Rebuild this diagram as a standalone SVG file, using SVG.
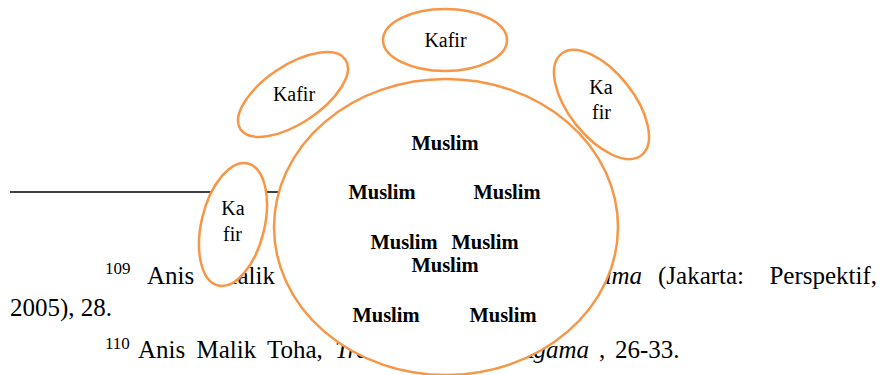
<svg xmlns="http://www.w3.org/2000/svg" width="885" height="375" viewBox="0 0 885 375">
  <style>
    .page { font-family: "Liberation Serif", "Times New Roman", serif; fill: #000; }
    .body { font-size: 25px; }
    .sup { font-size: 17px; }
    .it { font-style: italic; }
    .ring { stroke: #F79646; stroke-width: 2.5; fill: #fff; }
    .ring-open { stroke: #F79646; stroke-width: 2.5; fill: none; }
    .kafir { font-family: "Liberation Serif", "Times New Roman", serif; font-size: 20px; fill: #000; text-anchor: middle; }
    .muslim { font-family: "Liberation Serif", "Times New Roman", serif; font-size: 20.5px; font-weight: bold; fill: #000; text-anchor: middle; }
  </style>

  <rect width="885" height="375" fill="#fff"/>

  <!-- footnote rule and footnote text on the page -->
  <g id="footnotes" class="page">
    <line x1="10" y1="192" x2="280" y2="192" stroke="#000" stroke-width="1.5"/>
    <text class="sup" x="105" y="274">109</text>
    <text class="body" x="147" y="284">Anis</text>
    <text class="body" x="275" y="284" text-anchor="end">Malik</text>
    <text class="body it" x="642" y="284" text-anchor="end">Agama</text>
    <text class="body" x="658" y="284">(Jakarta:</text>
    <text class="body" x="877" y="284" text-anchor="end">Perspektif,</text>
    <text class="body" x="10" y="316">2005), 28.</text>
    <text class="sup" x="105" y="349">110</text>
    <text class="body" x="138" y="358" word-spacing="5">Anis Malik Toha,</text>
    <text class="body it" x="335" y="358">Tren</text>
    <text class="body it" x="589" y="358" text-anchor="end">Agama</text>
    <text class="body" x="599" y="358">,</text>
    <text class="body" x="615" y="358">26-33.</text>
  </g>

  <!-- large Muslim circle -->
  <g id="muslim-circle">
    <ellipse class="ring" cx="446" cy="227" rx="172" ry="148"/>
    <text class="muslim" x="445" y="150">Muslim</text>
    <text class="muslim" x="382" y="199">Muslim</text>
    <text class="muslim" x="507" y="199">Muslim</text>
    <text class="muslim" x="404" y="249">Muslim</text>
    <text class="muslim" x="485" y="249">Muslim</text>
    <text class="muslim" x="445" y="272">Muslim</text>
    <text class="muslim" x="386" y="322">Muslim</text>
    <text class="muslim" x="503" y="322">Muslim</text>
  </g>

  <!-- Kafir ellipses around it -->
  <g id="kafir-top">
    <ellipse class="ring" cx="445" cy="40" rx="62" ry="31"/>
    <text class="kafir" x="445.5" y="47">Kafir</text>
  </g>

  <g id="kafir-upper-left">
    <ellipse class="ring" cx="0" cy="0" rx="63" ry="29" transform="translate(293 94.5) rotate(-33.5)"/>
    <text class="kafir" x="294" y="101">Kafir</text>
  </g>

  <g id="kafir-right">
    <ellipse class="ring-open" cx="0" cy="0" rx="64.6" ry="32.4" transform="translate(601.5 104.5) rotate(51.6)"/>
    <text class="kafir" x="601" y="94">Ka</text>
    <text class="kafir" x="601.5" y="119">fir</text>
  </g>

  <g id="kafir-lower-left">
    <ellipse class="ring" cx="0" cy="0" rx="62.8" ry="31.5" transform="translate(233 224.5) rotate(-76.4)"/>
    <text class="kafir" x="233" y="215">Ka</text>
    <text class="kafir" x="232.5" y="241">fir</text>
  </g>
</svg>
